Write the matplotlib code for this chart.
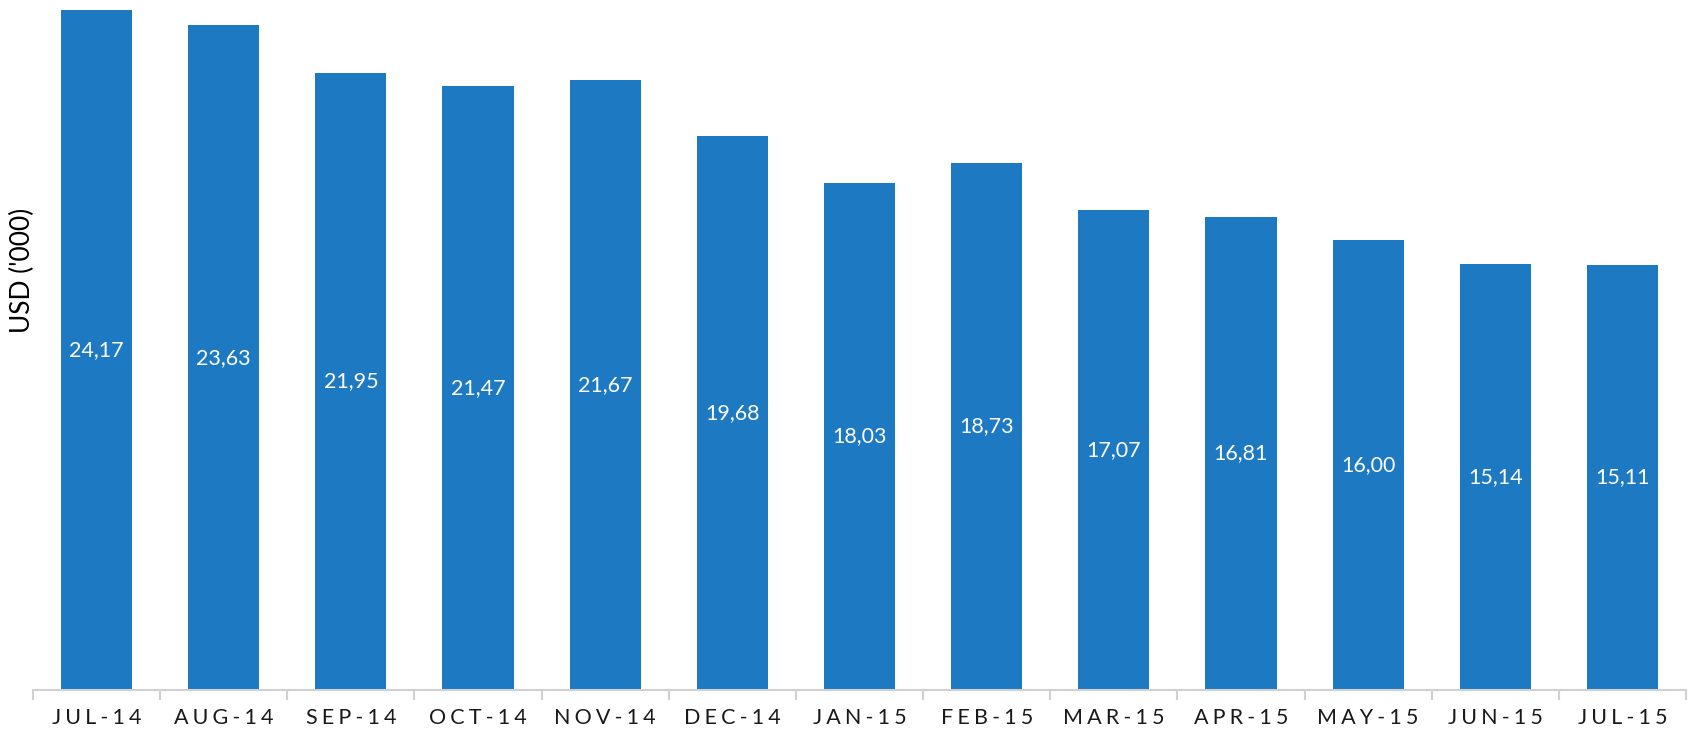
import matplotlib
matplotlib.use("Agg")
import matplotlib.pyplot as plt
import numpy as np

categories = ["JUL-14", "AUG-14", "SEP-14", "OCT-14", "NOV-14", "DEC-14", "JAN-15",
              "FEB-15", "MAR-15", "APR-15", "MAY-15", "JUN-15", "JUL-15"]
values = [24.17, 23.63, 21.95, 21.47, 21.67, 19.68, 18.03, 18.73, 17.07, 16.81, 16.00, 15.14, 15.11]
ylabel = "USD ('000)"

plt.rcParams['font.family'] = ['Lato', 'DejaVu Sans']

fig = plt.figure(figsize=(16.88, 7.32), dpi=100)
ax = fig.add_axes([33/1688, 42/732, 1653/1688, 690/732])

x = np.arange(len(categories))
bar_color = "#1C79C2"
ax.bar(x, values, width=0.56, color=bar_color, zorder=2)

for xi, v in zip(x, values):
    ax.text(xi, v / 2, f"{v:.2f}".replace(".", ","), ha="center", va="center",
            color="white", fontsize=15.5)

ax.set_xlim(-0.5, len(categories) - 0.5)
ax.set_ylim(0, 24.53)

for s in ["top", "right", "left"]:
    ax.spines[s].set_visible(False)
ax.spines["bottom"].set_color("#D0D0D0")
ax.spines["bottom"].set_linewidth(1.5)

ax.set_yticks([])
ax.set_xticks(x)
spaced = ["\u2009\u200a".join(list(c)) for c in categories]
ax.set_xticklabels(spaced, fontsize=15.5, color="#1a1a1a")
ax.tick_params(axis="x", which="major", length=0, pad=13)
ax.set_xticks(np.arange(-0.5, len(categories) + 0.5, 1), minor=True)
ax.tick_params(axis="x", which="minor", length=7, width=1.5, color="#D0D0D0")

fig.text(22/1688, 1 - 270/732, ylabel, rotation=90, ha="center", va="center",
         fontsize=19, color="black")

fig.savefig("out.png", dpi=100, facecolor="white")
